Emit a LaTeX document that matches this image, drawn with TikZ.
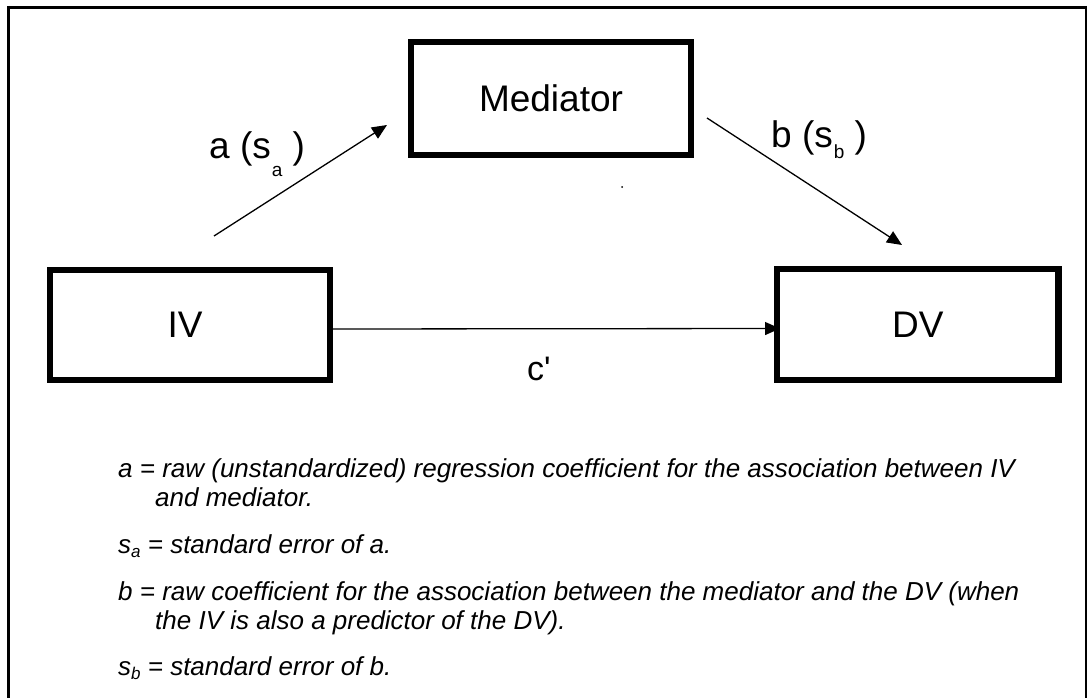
\documentclass[tikz,border=0pt]{standalone}
\usepackage{fontspec}
\setmainfont{Liberation Sans}
\newfontfamily\plainsans{Liberation Sans}[Ligatures=TeXOff]
\usetikzlibrary{arrows.meta}
\newcommand\bigsub[2]{\raisebox{-#1}{\fontsize{19}{19}\selectfont #2}}
\newcommand\notesub[1]{\raisebox{-4.5pt}{\fontsize{17}{17}\selectfont #1}}
\tikzset{
  box/.style={draw, line width=6.7pt, minimum width=280pt, minimum height=110pt,
    inner sep=0pt, outer sep=0pt, font=\fontsize{37}{40}\selectfont},
  conn/.style={line width=1.3pt, -{Triangle[length=15pt,width=13pt]}},
  lbl/.style={anchor=base west, inner sep=0pt, font=\fontsize{37}{40}\selectfont},
  note/.style={anchor=base west, inner sep=0pt, font=\fontsize{26}{30}\selectfont\itshape},
}
\begin{document}
\begin{tikzpicture}[x=1pt,y=-1pt]
\useasboundingbox (0,0) rectangle (1087,698);
% outer frame
\draw[line width=3pt] (7.3,7.5) -- (1086.8,7.5);
\draw[line width=2.7pt] (8.7,6) -- (8.7,698);
\draw[line width=1.5pt] (1086.2,6) -- (1086.2,698);
% boxes
\node[box] (IV) at (190,325) {IV\kern10pt};
\node[box, minimum width=281.5pt, minimum height=111pt] (DV) at (917.75,324.5) {DV};
\node[box, minimum height=113pt] (Med) at (551,98.5) {Mediator};
% connectors
\coordinate (aS) at (214,236);
\coordinate (aE) at (387,125);
\coordinate (bS) at (707,118);
\coordinate (bE) at (902,245);
\draw[conn] (aS) -- (aE);
\draw[conn] (bS) -- (bE);
\draw[conn] ([yshift=-4pt]IV.east) -- ([yshift=-4pt,xshift=3pt]DV.west);
% path labels
\node[lbl] (la) at (209,158) {a (s\kern1pt\bigsub{18pt}{a} )};
\node[lbl] (lb) at (771,147) {b (s\kern1pt\bigsub{11pt}{b} )};
\node[lbl, font=\fontsize{34}{40}\plainsans] (lc) at (527,380) {c'};
% stray dot
\fill (622,187) circle (1pt);
% notes
\node[note] (t1) at (118,477) {a = raw (unstandardized) regression coefficient for the association between IV};
\node[note] (t2) at (155,506) {and mediator.};
\node[note] (t3) at (118,553) {s\notesub{a} = standard error of a.};
\node[note] (t4) at (118,600) {b = raw coefficient for the association between the mediator and the DV (when};
\node[note] (t5) at (155,629) {the IV is also a predictor of the DV).};
\node[note] (t6) at (118,675) {s\notesub{b} = standard error of b.};
\end{tikzpicture}
\end{document}
